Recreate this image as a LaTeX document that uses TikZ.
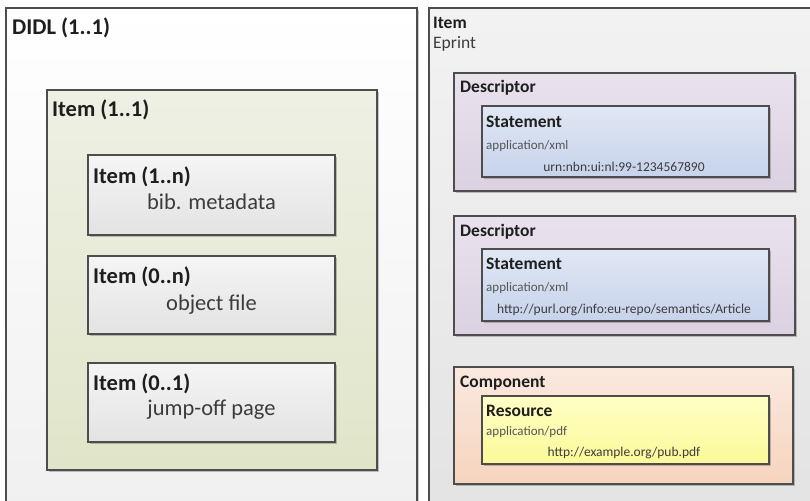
\documentclass[tikz,border=0pt]{standalone}
\usepackage{fontspec}
\setmainfont{Carlito}
\usetikzlibrary{shadows}
\definecolor{bordc}{HTML}{4D4D4D}
\definecolor{txtdark}{HTML}{1E1E1E}
\definecolor{txtgray}{HTML}{3C3C3C}
\definecolor{txtsmall}{HTML}{555555}
\tikzset{
  boxbase/.style={draw=bordc, line width=1.2pt, inner sep=0pt, outer sep=0pt,
    drop shadow={shadow xshift=1.6pt, shadow yshift=-1.6pt, fill=black, opacity=0.22}},
  outerleft/.style={boxbase, top color=white, bottom color=black!6},
  outerright/.style={boxbase, top color=black!5, bottom color=black!11},
  olivebox/.style={boxbase, top color={rgb,255:red,238;green,240;blue,228}, bottom color={rgb,255:red,224;green,229;blue,201}},
  graybox/.style={boxbase, top color=black!4, bottom color=black!11},
  lavbox/.style={boxbase, top color={rgb,255:red,233;green,226;blue,237}, bottom color={rgb,255:red,219;green,209;blue,225}},
  bluebox/.style={boxbase, top color={rgb,255:red,224;green,231;blue,244}, bottom color={rgb,255:red,199;green,211;blue,236}},
  peachbox/.style={boxbase, top color={rgb,255:red,250;green,233;blue,223}, bottom color={rgb,255:red,246;green,212;blue,190}},
  yelbox/.style={boxbase, top color={rgb,255:red,255;green,255;blue,198}, bottom color={rgb,255:red,251;green,249;blue,152}},
  hbig/.style={font=\fontsize{22.5}{27}\selectfont\bfseries, text=txtdark, inner sep=0pt, anchor=base west},
  tbig/.style={font=\fontsize{22.5}{27}\selectfont, text=txtgray, inner sep=0pt, anchor=base},
  hmed/.style={font=\fontsize{17.5}{21}\selectfont\bfseries, text=txtdark, inner sep=0pt, anchor=base west},
  tmed/.style={font=\fontsize{17.5}{21}\selectfont, text=txtgray, inner sep=0pt, anchor=base west},
  tsmall/.style={font=\fontsize{13}{15}\selectfont, text=txtsmall, inner sep=0pt, anchor=base west},
  turl/.style={font=\fontsize{13.5}{16}\selectfont, text=txtgray, inner sep=0pt, anchor=base},
}
\newcommand\boxnode[6]{\node[#2, minimum width={(#5-#3)*1pt}, minimum height={(#6-#4)*1pt}] (#1) at ({(#3+#5)/2},{(#4+#6)/2}) {};}
\begin{document}
\begin{tikzpicture}[x=1pt,y=-1pt]
\useasboundingbox (0,0) rectangle (810,500);
\clip (0,0) rectangle (810,500);
\fill[white] (0,0) rectangle (810,500);
% left panel
\boxnode{didl}{outerleft}{6}{8}{417}{520}
\boxnode{item11}{olivebox}{47}{90}{377}{470}
\boxnode{item1n}{graybox}{88}{155}{335}{235}
\boxnode{item0n}{graybox}{88}{256}{335}{334}
\boxnode{item01}{graybox}{88}{363}{335}{442}
\node[hbig] (tdidl) at (12,35) {DIDL (1..1)};
\node[hbig] (titem11) at (52,117) {Item (1..1)};
\node[hbig] (titem1n) at (93,183) {Item (1..n)};
\node[tbig] (tbib) at (211.5,209) {bib. metadata};
\node[hbig] (titem0n) at (93,283) {Item (0..n)};
\node[tbig] (tobj) at (211.5,310) {object file};
\node[hbig] (titem01) at (93,390) {Item (0..1)};
\node[tbig] (tjump) at (211.5,415) {jump-off page};
% right panel
\boxnode{eprint}{outerright}{429}{8}{830}{520}
\boxnode{desc1}{lavbox}{454}{73}{795}{191}
\boxnode{stmt1}{bluebox}{482}{106}{769}{177}
\boxnode{desc2}{lavbox}{454}{216}{795}{335}
\boxnode{stmt2}{bluebox}{482}{249}{769}{321}
\boxnode{comp}{peachbox}{454}{367}{793}{484}
\boxnode{res}{yelbox}{482}{396}{769}{464}
\node[hmed] (titem) at (433,29) {Item};
\node[tmed] (teprint) at (433,49) {Eprint};
\node[hmed] (tdesc1) at (460,93) {Descriptor};
\node[hmed] (tstmt1) at (486,127) {Statement};
\node[tsmall] (tapp1) at (486,149) {application/xml};
\node[turl] (turn) at (624,171) {urn:nbn:ui:nl:99-1234567890};
\node[hmed] (tdesc2) at (460,236) {Descriptor};
\node[hmed] (tstmt2) at (486,269) {Statement};
\node[tsmall] (tapp2) at (486,291) {application/xml};
\node[turl] (tpurl) at (624,313) {http://purl.org/info:eu-repo/semantics/Article};
\node[hmed] (tcomp) at (460,387) {Component};
\node[hmed] (tres) at (486,416) {Resource};
\node[tsmall] (tapp3) at (486,435) {application/pdf};
\node[turl] (tpdf) at (624,456) {http://example.org/pub.pdf};
\end{tikzpicture}
\end{document}
